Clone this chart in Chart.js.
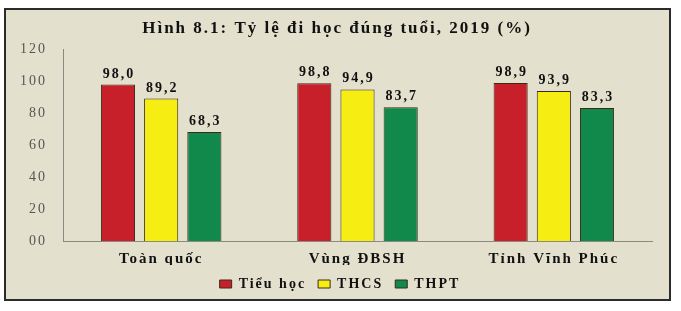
<!DOCTYPE html>
<html><head><meta charset="utf-8">
<script src="https://cdn.jsdelivr.net/npm/chart.js@4"></script>
<style>html,body{margin:0;padding:0;background:#fff;}#wrap{width:681px;height:311px;}</style>
</head><body><div id="wrap"><canvas id="c" width="681" height="311"></canvas></div>
<script>
const categories = ["Toàn quốc", "Vùng ĐBSH", "Tỉnh Vĩnh Phúc"];
const seriesNames = ["Tiểu học", "THCS", "THPT"];
const tieuHoc = [98.0, 98.8, 98.9];
const thcs = [89.2, 94.9, 93.9];
const thpt = [68.3, 83.7, 83.3];
const yTicks = [0, 20, 40, 60, 80, 100, 120];
const colors = ["#c8202a", "#f6ee12", "#10894a"];

const serif = "'Liberation Serif', 'Times New Roman', serif";
const SPACING = '2px';

const spacingPlugin = {
  id: 'spacing',
  beforeUpdate(chart) { chart.ctx.letterSpacing = SPACING; },
  beforeLayout(chart) { chart.ctx.letterSpacing = SPACING; },
  afterLayout(chart) {
    if (chart.titleBlock) { chart.titleBlock.left += 22; }
    if (chart.legend) { chart.legend.left += 28; }
  },
  beforeDraw(chart) { chart.ctx.letterSpacing = SPACING; }
};

const framePlugin = {
  id: 'frame',
  beforeDraw(chart) {
    const ctx = chart.ctx;
    ctx.save();
    ctx.fillStyle = '#ffffff';
    ctx.fillRect(0, 0, chart.width, chart.height);
    ctx.fillStyle = '#e3e0cd';
    ctx.fillRect(5, 9, 665, 291);
    ctx.strokeStyle = '#2b2b2b';
    ctx.lineWidth = 2;
    ctx.strokeRect(5, 9, 665, 291);
    ctx.restore();
  }
};

const labelPlugin = {
  id: 'vals',
  afterDatasetsDraw(chart) {
    const ctx = chart.ctx;
    ctx.save();
    ctx.letterSpacing = SPACING;
    ctx.font = "bold 14px " + serif;
    ctx.fillStyle = '#111';
    ctx.textAlign = 'center';
    ctx.textBaseline = 'alphabetic';
    chart.data.datasets.forEach((ds, i) => {
      chart.getDatasetMeta(i).data.forEach((bar, j) => {
        ctx.fillText(ds.data[j].toFixed(1).replace('.', ','), bar.x + 1, bar.y - 7);
      });
    });
    ctx.restore();
  }
};

new Chart(document.getElementById('c'), {
  type: 'bar',
  data: {
    labels: categories,
    datasets: [
      { label: seriesNames[0], data: tieuHoc, backgroundColor: colors[0] },
      { label: seriesNames[1], data: thcs, backgroundColor: colors[1] },
      { label: seriesNames[2], data: thpt, backgroundColor: colors[2] }
    ].map(d => Object.assign(d, { borderColor: '#3a2a1a', borderWidth: 1, categoryPercentage: 0.66, barPercentage: 0.79 }))
  },
  options: {
    responsive: false,
    animation: false,
    layout: { padding: { left: 0, right: 29, top: 16, bottom: 10 } },
    plugins: {
      title: { display: true, text: 'Hình 8.1: Tỷ lệ đi học đúng tuổi, 2019 (%)', color: '#111',
        font: { family: serif, size: 17, weight: 'bold' }, padding: { top: 2, bottom: 11 } },
      legend: { position: 'bottom', labels: { color: '#111', font: { family: serif, size: 14, weight: 'bold' },
        boxWidth: 12, boxHeight: 8, padding: 12 } },
      tooltip: { enabled: false }
    },
    scales: {
      x: {
        afterFit(s) { s.height = 24; },
        grid: { display: false },
        border: { display: true, color: '#8a8a80' },
        ticks: { color: '#111', font: { family: serif, size: 15, weight: 'bold' }, padding: 1 }
      },
      y: {
        min: 0, max: 120,
        afterFit(s) { s.width = 63; },
        afterBuildTicks(s) { s.ticks = yTicks.map(v => ({ value: v })); },
        grid: { display: false },
        border: { display: true, color: '#8a8a80' },
        ticks: { color: '#555', font: { family: serif, size: 14 }, padding: 8,
          callback: v => v === 0 ? '00' : String(v) }
      }
    }
  },
  plugins: [spacingPlugin, framePlugin, labelPlugin]
});
</script></body></html>
